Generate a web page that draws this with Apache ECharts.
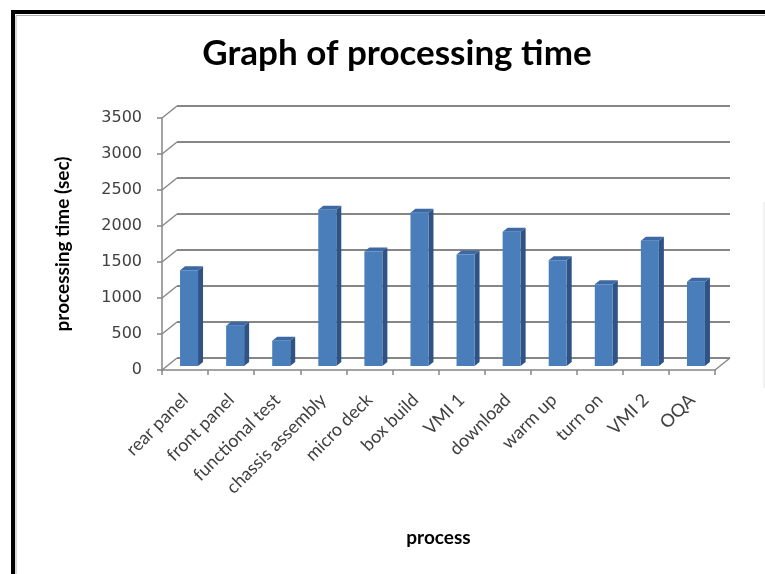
<!DOCTYPE html>
<html>
<head>
<meta charset="utf-8">
<script src="https://cdn.jsdelivr.net/npm/echarts@6/dist/echarts.min.js"></script>
<style>
  html, body { margin: 0; padding: 0; background: #fff; }
  #chart { width: 765px; height: 574px; }
</style>
</head>
<body>
<div id="chart"></div>
<script>
// processing time per step (sec)
var categories = ['rear panel', 'front panel', 'functional test', 'chassis assembly', 'micro deck',
    'box build', 'VMI 1', 'download', 'warm up', 'turn on', 'VMI 2', 'OQA'];
var times = [1330, 560, 350, 2170, 1590, 2130, 1550, 1865, 1470, 1135, 1740, 1170];
var gridValues = [0, 500, 1000, 1500, 2000, 2500, 3000, 3500];

var myChart = echarts.init(document.getElementById('chart'));

// fake 3d: back wall is the front plot moved up and right
var DEPTH_X = 15, DEPTH_Y = 12;
var PLOT = { left: 162, top: 118, width: 553, height: 252 };
var lineGrey = '#868686';
var textGrey = '#404040';
var font = 'Lato, "Open Sans", sans-serif';

var option = {
    backgroundColor: '#fff',
    animation: false,
    title: {
        text: 'Graph of processing time',
        left: 392,
        top: 31,
        textAlign: 'center',
        textStyle: { fontFamily: font, fontWeight: 'bold', fontSize: 35, color: '#000' }
    },
    graphic: [
        // black frame, runs off the bottom and right of the picture
        { type: 'rect', shape: { x: 13, y: 12, width: 800, height: 620 }, style: { fill: 'none', stroke: '#000', lineWidth: 4 }, z: 10 },
        { type: 'polyline', shape: { points: [[16, 600], [16, 15.5], [800, 15.5]] }, style: { fill: 'none', stroke: '#b0b0b0', lineWidth: 1 }, z: 10 },
        { type: 'line', shape: { x1: 764, y1: 202, x2: 764, y2: 388 }, style: { stroke: '#e4e4e4', lineWidth: 1 } }
    ],
    grid: [
        { left: PLOT.left + DEPTH_X, top: PLOT.top - DEPTH_Y, width: PLOT.width, height: PLOT.height },
        { left: PLOT.left, top: PLOT.top, width: PLOT.width, height: PLOT.height }
    ],
    xAxis: [
        { gridIndex: 0, type: 'category', data: categories, show: false },
        {
            gridIndex: 1,
            type: 'category',
            data: categories,
            name: 'process',
            nameLocation: 'middle',
            nameGap: 158,
            nameTextStyle: { fontFamily: font, fontWeight: 'bold', fontSize: 19, color: '#000' },
            axisLine: { lineStyle: { color: lineGrey, width: 1.5 } },
            axisTick: { show: true, interval: 0, length: 5, lineStyle: { color: lineGrey, width: 1.5 } },
            axisLabel: { interval: 0, rotate: 45, margin: 27, fontFamily: font, fontSize: 18, color: textGrey }
        }
    ],
    yAxis: [
        {
            gridIndex: 0, type: 'value', min: 0, max: 3500, interval: 500,
            axisLine: { show: false }, axisTick: { show: false }, axisLabel: { show: false },
            splitLine: { lineStyle: { color: lineGrey, width: 1.8 } }
        },
        {
            gridIndex: 1, type: 'value', min: 0, max: 3500, interval: 500,
            name: 'processing time (sec)',
            nameLocation: 'middle',
            nameGap: 90,
            nameTextStyle: { fontFamily: font, fontWeight: 'bold', fontSize: 19, color: '#000' },
            axisLine: { show: true, lineStyle: { color: lineGrey, width: 1.5 } },
            axisTick: { show: true, length: 5, lineStyle: { color: lineGrey, width: 1.5 } },
            axisLabel: {
                margin: 20, fontFamily: 'DejaVu Sans', fontSize: 16, color: textGrey,
                formatter: function (v) { return String(v); }
            },
            splitLine: { show: false }
        }
    ],
    series: [
        {
            // side wall / floor edges joining front axis to back wall
            type: 'custom',
            xAxisIndex: 1,
            yAxisIndex: 1,
            data: gridValues.map(function (v) { return [0, v]; }),
            encode: { x: 0, y: 1 },
            silent: true,
            renderItem: function (params, api) {
                var cs = params.coordSys;
                var y = api.coord([0, api.value(1)])[1];
                var style = { stroke: lineGrey, lineWidth: 1.5 };
                var lines = [{
                    type: 'line',
                    shape: { x1: cs.x, y1: y, x2: cs.x + DEPTH_X, y2: y - DEPTH_Y },
                    style: style
                }];
                if (api.value(1) === 0) {
                    lines.push({
                        type: 'line',
                        shape: { x1: cs.x + cs.width, y1: y, x2: cs.x + cs.width + DEPTH_X, y2: y - DEPTH_Y },
                        style: style
                    });
                }
                return { type: 'group', children: lines };
            },
            z: 2
        },
        {
            type: 'custom',
            name: 'processing time',
            xAxisIndex: 1,
            yAxisIndex: 1,
            data: times.map(function (v, i) { return [i, v]; }),
            encode: { x: 0, y: 1 },
            renderItem: function (params, api) {
                var base = api.coord([api.value(0), 0]);
                var top = api.coord([api.value(0), api.value(1)]);
                var w = 18, dx = 5, dy = 4;
                var x0 = base[0] + 4 - w / 2, x1 = x0 + w;
                var yb = base[1] - 4, yt = top[1] - 4;
                return {
                    type: 'group',
                    children: [
                        { type: 'polygon', shape: { points: [[x1, yt], [x1 + dx, yt - dy], [x1 + dx, yb - dy], [x1, yb]] }, style: { fill: '#2f5385' } },
                        { type: 'polygon', shape: { points: [[x0, yt], [x0 + dx, yt - dy], [x1 + dx, yt - dy], [x1, yt]] }, style: { fill: '#3c69a3' } },
                        { type: 'rect', shape: { x: x0, y: yt, width: w, height: yb - yt }, style: { fill: '#4a7ebb' } }
                    ]
                };
            },
            z: 3
        }
    ]
};

if (option && typeof option === 'object') {
    myChart.setOption(option);
}
</script>
</body>
</html>
